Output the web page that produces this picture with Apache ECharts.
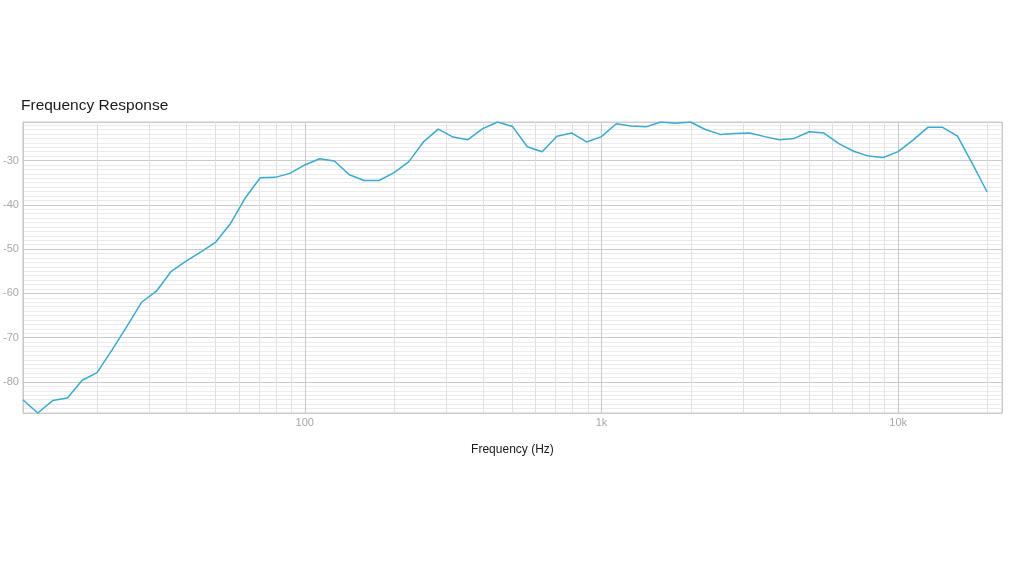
<!DOCTYPE html>
<html>
<head>
<meta charset="utf-8">
<script src="https://cdn.jsdelivr.net/npm/echarts@6/dist/echarts.min.js"></script>
<style>
html,body{margin:0;padding:0;background:#ffffff;}
#chart{width:1024px;height:576px;}
</style>
</head>
<body>
<div id="chart"></div>
<script>
// 1/6-octave frequencies (Hz)
const freqs = [11.22, 12.59, 14.13, 15.85, 17.78, 19.95, 22.39, 25.12, 28.18, 31.62,
  35.48, 39.81, 44.67, 50.12, 56.23, 63.10, 70.79, 79.43, 89.13, 100,
  112.2, 125.9, 141.3, 158.5, 177.8, 199.5, 223.9, 251.2, 281.8, 316.2,
  354.8, 398.1, 446.7, 501.2, 562.3, 631.0, 707.9, 794.3, 891.3, 1000,
  1122, 1259, 1413, 1585, 1778, 1995, 2239, 2512, 2818, 3162,
  3548, 3981, 4467, 5012, 5623, 6310, 7079, 7943, 8913, 10000,
  11220, 12589, 14125, 15849, 17783, 19953];
// response level (dB)
const levels = [-84, -87, -84.2, -83.6, -79.6, -77.9, -72.8, -67.5, -62, -59.5,
  -55, -52.7, -50.6, -48.4, -44.2, -38.4, -33.9, -33.8, -32.9, -31,
  -29.6, -30.1, -33.2, -34.5, -34.5, -32.8, -30.3, -25.8, -22.9, -24.7,
  -25.3, -22.8, -21.3, -22.3, -26.9, -28, -24.5, -23.8, -25.8, -24.6,
  -21.7, -22.2, -22.4, -21.3, -21.6, -21.3, -23, -24.1, -23.9, -23.8,
  -24.6, -25.3, -25, -23.5, -23.8, -26.2, -27.9, -29, -29.3, -28,
  -25.4, -22.5, -22.5, -24.5, -30.7, -37.1];
// x axis labels
const xTickLabels = {100: '100', 1000: '1k', 10000: '10k'};
// minor vertical grid values
const minorFreqs = [20, 30, 40, 50, 60, 70, 80, 90,
  200, 300, 400, 500, 600, 700, 800, 900,
  2000, 3000, 4000, 5000, 6000, 7000, 8000, 9000,
  20000];
const xRange = [11.22, 22387];
const yRange = [-87, -21.3];

const points = freqs.map((f, i) => [f, levels[i]]);
const FONT = "'Liberation Sans', Arial, Helvetica, sans-serif";

const chart = echarts.init(document.getElementById('chart'), null, {renderer: 'canvas'});
chart.setOption({
  animation: false,
  backgroundColor: '#ffffff',
  textStyle: {fontFamily: FONT},
  title: {
    text: 'Frequency Response',
    left: 16, top: 93,
    textStyle: {fontSize: 15.5, fontWeight: 'normal', color: '#1a1a1a', fontFamily: FONT}
  },
  grid: {
    left: 21, right: 22, top: 122, bottom: 163,
    show: true, borderColor: '#cccccc', borderWidth: 1, backgroundColor: 'transparent'
  },
  xAxis: {
    type: 'log', logBase: 10, min: xRange[0], max: xRange[1], z: 2,
    axisLine: {show: false}, axisTick: {show: false},
    axisLabel: {
      color: '#a8a8a8', fontSize: 11, margin: 4, fontFamily: FONT,
      showMinLabel: false, showMaxLabel: false,
      formatter: function (v) {
        const r = Math.round(v);
        return (Math.abs(v - r) < 1e-6 && xTickLabels[r]) ? xTickLabels[r] : '';
      }
    },
    splitLine: {show: true, lineStyle: {color: '#c9c9c9', width: 1}},
    name: 'Frequency (Hz)', nameLocation: 'middle', nameGap: 31,
    nameTextStyle: {color: '#1a1a1a', fontSize: 12, fontFamily: FONT}
  },
  yAxis: [{
    type: 'value', min: yRange[0], max: yRange[1], splitNumber: 6, z: 2,
    axisLine: {show: false}, axisTick: {show: false},
    axisLabel: {
      color: '#a8a8a8', fontSize: 11, margin: 4, fontFamily: FONT,
      showMinLabel: false, showMaxLabel: false,
      formatter: function (v) { return (Math.abs(v % 10) < 1e-6) ? String(v) : ''; }
    },
    splitLine: {show: true, lineStyle: {color: '#cbcbcb', width: 1}}
  }, {
    type: 'value', min: yRange[0], max: yRange[1], interval: 1, z: 0,
    axisLine: {show: false}, axisTick: {show: false}, axisLabel: {show: false},
    splitLine: {show: true, lineStyle: {color: '#ebebeb', width: 1}}
  }],
  series: [{
    type: 'line', z: 1, yAxisIndex: 0, silent: true,
    data: points, showSymbol: false, symbol: 'none',
    lineStyle: {opacity: 0, width: 0},
    markLine: {
      silent: true, animation: false, symbol: ['none', 'none'],
      label: {show: false},
      lineStyle: {color: '#e1e1e1', width: 1, type: 'solid'},
      emphasis: {disabled: true},
      data: minorFreqs.map(f => ({xAxis: f}))
    }
  }, {
    type: 'line', z: 5, yAxisIndex: 0,
    data: points, showSymbol: false, symbol: 'none',
    lineStyle: {color: '#3aaacd', width: 1.5}
  }]
});
</script>
</body>
</html>
